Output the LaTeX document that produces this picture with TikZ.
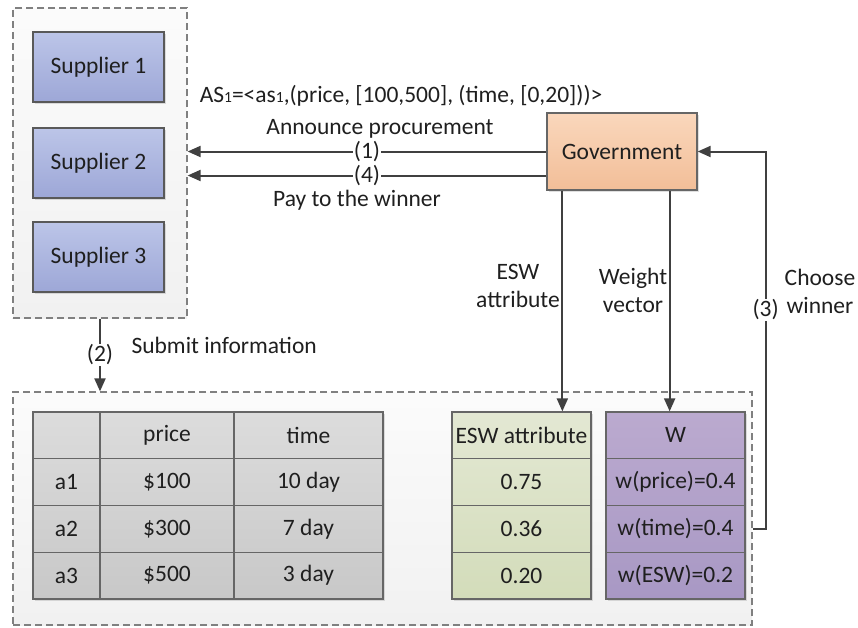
\documentclass[tikz,border=0pt]{standalone}
\usepackage{fontspec}
\setmainfont{Carlito}
\usetikzlibrary{arrows.meta,shadows}
\definecolor{supTop}{HTML}{BCC5E8}
\definecolor{supBot}{HTML}{9DA7D7}
\definecolor{govTop}{HTML}{FAD7BC}
\definecolor{govBot}{HTML}{F2BE98}
\definecolor{tabTop}{HTML}{DCDCDC}
\definecolor{tabBot}{HTML}{C8C8C8}
\definecolor{eswTop}{HTML}{E3E8D3}
\definecolor{eswBot}{HTML}{D3DCBA}
\definecolor{wTop}{HTML}{BBAACF}
\definecolor{wBot}{HTML}{A898C4}
\tikzset{
  boxshadow/.style={drop shadow={opacity=.25,shadow xshift=2pt,shadow yshift=-2pt}},
  group/.style={draw=black!50,dash pattern=on 7pt off 4pt,line width=1.2pt,top color=gray!3,bottom color=gray!11,inner sep=0pt},
  supplier/.style={draw=black!65,line width=1.3pt,top color=supTop,bottom color=supBot,minimum width=131pt,minimum height=70pt,inner sep=0pt,boxshadow},
  gov box/.style={draw=black!60,line width=1.3pt,top color=govTop,bottom color=govBot,minimum width=150pt,minimum height=77pt,inner sep=0pt,boxshadow},
  table bg/.style={draw=black!60,line width=1.3pt,minimum height=187pt,inner sep=0pt,boxshadow},
  cell/.style={draw=black!60,line width=1.2pt,minimum height=46.75pt,inner sep=0pt},
  conn/.style={draw=black!75,line width=2pt},
  lbl/.style={fill=white,inner sep=.5pt}
}
\begin{document}
\begin{tikzpicture}[x=1pt,y=-1pt,>={Triangle[length=13pt,width=11pt]},
  every node/.style={font=\fontsize{23.5}{28}\selectfont,text=black!88}]
\useasboundingbox (0,0) rectangle (858,627);
% dashed groups
\node[group,minimum width=174pt,minimum height=310pt] (sup) at (100,163) {};
\node[group,minimum width=739pt,minimum height=233pt] (data) at (382.5,508.5) {};
% suppliers and government
\node[supplier] (s1) at (98.5,67) {Supplier 1};
\node[supplier] (s2) at (98.5,163) {Supplier 2};
\node[supplier] (s3) at (98.5,257) {Supplier 3};
\node[gov box] (gov) at (622,151.5) {Government};
% tables
\node[table bg,minimum width=350pt,top color=tabTop,bottom color=tabBot] (tab) at (208,505.5) {};
\node[table bg,minimum width=139pt,top color=eswTop,bottom color=eswBot] (esw) at (521.5,505.5) {};
\node[table bg,minimum width=139pt,top color=wTop,bottom color=wBot] (wtab) at (675.5,505.5) {};
\foreach \a/\b/\c [count=\r] in {/price/time,a1/\$100/10 day,a2/\$300/7 day,a3/\$500/3 day}{
  \node[cell,minimum width=67pt] (t\r-1) at (66.5,{412+46.75*(\r-0.5)}) {\a};
  \node[cell,minimum width=134pt] (t\r-2) at (167,{412+46.75*(\r-0.5)}) {\b};
  \node[cell,minimum width=149pt] (t\r-3) at (308.5,{412+46.75*(\r-0.5)}) {\c};
}
\foreach \v [count=\r] in {ESW attribute,0.75,0.36,0.20}
  \node[cell,minimum width=139pt] (e\r) at (521.5,{412+46.75*(\r-0.5)}) {\v};
\foreach \v [count=\r] in {W,w(price)=0.4,w(time)=0.4,w(ESW)=0.2}
  \node[cell,minimum width=139pt] (w\r) at (675.5,{412+46.75*(\r-0.5)}) {\v};
% messages
\node (as) at (401,96) {AS{\fontsize{15.5}{18}\selectfont 1}=<as{\fontsize{15.5}{18}\selectfont 1},(price, [100,500], (time, [0,20]))>};
\node (ann) at (380,129) {Announce procurement};
\node (pay) at (357,200) {Pay to the winner};
\draw[conn,->] (gov.west) -- (gov.west -| sup.east) node[lbl,midway]{(1)};
\draw[conn,->] ([yshift=-24pt]gov.west) -- ([yshift=-24pt]gov.west -| sup.east) node[lbl,midway]{(4)};
\draw[conn,->] (sup.south) -- (sup.south |- data.north) node[lbl,midway]{(2)};
\node[anchor=west] (sub) at (128,345) {Submit information};
\draw[conn,->] ([xshift=16pt]gov.south west) -- ([xshift=16pt]gov.south west |- esw.north);
\draw[conn,->] ([xshift=-28pt]gov.south east) -- ([xshift=-28pt]gov.south east |- wtab.north);
\node[align=center] (eswl) at (518,286) {ESW\\attribute};
\node[align=center] (wvl) at (633,290) {Weight\\vector};
\draw[conn,->] (w3.east -| data.east) -- ++(13,0) |- (gov.east) node[lbl,pos=0.29]{(3)};
\node[align=center] (chl) at (820,291) {Choose\\winner};
\end{tikzpicture}
\end{document}
